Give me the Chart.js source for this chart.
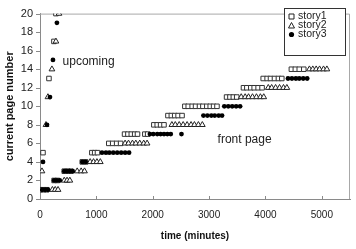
<!DOCTYPE html>
<html>
<head>
<meta charset="utf-8">
<script src="https://cdn.jsdelivr.net/npm/chart.js@4.4.1/dist/chart.umd.min.js"></script>
<style>
  html, body { margin: 0; padding: 0; background: #fff; }
</style>
</head>
<body>
<canvas id="pageChart" width="356" height="249"></canvas>
<script>
// ===== data: [time (minutes), current page number] =====
const story1 = [
  [53, 5], [159, 13], [247, 17], [283, 20],
  [0, 1], [60, 1], [120, 1],
  [250, 2], [310, 2],
  [430, 3], [490, 3], [550, 3],
  [750, 4], [810, 4],
  [920, 5], [970, 5], [1020, 5],
  [1220, 6], [1290, 6], [1360, 6], [1430, 6],
  [1500, 7], [1560, 7], [1620, 7], [1680, 7], [1730, 7], [1860, 7], [1910, 7],
  [2020, 8], [2080, 8], [2140, 8], [2200, 8],
  [2270, 9], [2330, 9], [2390, 9], [2450, 9], [2520, 9],
  [2570, 10], [2630, 10], [2700, 10], [2760, 10], [2830, 10], [2890, 10], [2960, 10], [3020, 10], [3080, 10], [3140, 10],
  [3310, 11], [3370, 11], [3430, 11], [3490, 11],
  [3610, 12], [3670, 12], [3740, 12], [3800, 12], [3870, 12], [3940, 12],
  [3960, 13], [4030, 13], [4090, 13], [4160, 13], [4230, 13], [4290, 13],
  [4460, 14], [4530, 14], [4600, 14], [4680, 14]
];
const story2 = [
  [35, 3], [106, 8], [141, 11], [212, 14], [283, 17], [336, 20],
  [220, 1], [270, 1], [320, 1],
  [430, 2], [480, 2], [530, 2],
  [660, 3], [730, 3], [790, 3],
  [890, 4], [950, 4], [1010, 4], [1070, 4],
  [1510, 6], [1570, 6], [1640, 6], [1700, 6], [1770, 6], [1840, 6], [1900, 6],
  [2340, 8], [2400, 8], [2470, 8], [2540, 8], [2610, 8], [2680, 8], [2740, 8], [2810, 8], [2880, 8],
  [3570, 11], [3640, 11], [3700, 11], [3770, 11], [3840, 11], [3910, 11], [3970, 11],
  [4050, 12], [4110, 12], [4180, 12], [4250, 12], [4320, 12], [4380, 12],
  [4780, 14], [4840, 14], [4900, 14], [4960, 14], [5030, 14], [5090, 14]
];
const story3 = [
  [53, 4], [124, 8], [177, 11], [230, 15], [300, 19],
  [40, 1], [90, 1], [140, 1],
  [250, 2], [300, 2], [350, 2],
  [430, 3], [480, 3], [530, 3], [580, 3],
  [750, 4], [810, 4],
  [1100, 5], [1170, 5], [1230, 5], [1300, 5], [1370, 5], [1440, 5], [1510, 5], [1580, 5],
  [1950, 7], [2010, 7], [2080, 7], [2140, 7], [2200, 7], [2260, 7], [2320, 7], [2510, 7],
  [2900, 9], [2970, 9], [3040, 9], [3100, 9], [3170, 9], [3230, 9],
  [3270, 10], [3340, 10], [3410, 10], [3480, 10], [3550, 10],
  [4400, 13], [4470, 13], [4540, 13], [4600, 13], [4670, 13], [4740, 13]
];
const seriesNames = ["story1", "story2", "story3"];
const xTicks = [0, 1000, 2000, 3000, 4000, 5000];
const yTicks = [0, 2, 4, 6, 8, 10, 12, 14, 16, 18, 20];
// [text, time, page] - left/middle anchor of each annotation
const notes = [["upcoming", 400, 14.8], ["front page", 3150, 6.35]];

const FONT = "'Liberation Sans', Arial, sans-serif";
const toXY = arr => arr.map(p => ({ x: p[0], y: p[1] }));

// markers for the hand-made legend
function drawMarker(ctx, kind, x, y) {
  ctx.lineWidth = 1;
  ctx.strokeStyle = "#222";
  ctx.fillStyle = "#fff";
  ctx.beginPath();
  if (kind === 0) {
    ctx.rect(x - 2.5, y - 2.5, 5, 5);
    ctx.fill(); ctx.stroke();
  } else if (kind === 1) {
    ctx.moveTo(x, y - 3); ctx.lineTo(x + 3, y + 2.5); ctx.lineTo(x - 3, y + 2.5); ctx.closePath();
    ctx.fill(); ctx.stroke();
  } else {
    ctx.fillStyle = "#000";
    ctx.arc(x, y, 2.6, 0, Math.PI * 2);
    ctx.fill();
  }
}

const extras = {
  id: "extras",
  beforeDatasetsDraw(chart) {
    const { ctx, chartArea: a, scales: { x, y } } = chart;
    ctx.save();
    // gray frame top / right
    ctx.strokeStyle = "#a8a8a8";
    ctx.lineWidth = 1;
    ctx.beginPath();
    ctx.moveTo(a.left, a.top + 0.5);
    ctx.lineTo(a.right - 0.5, a.top + 0.5);
    ctx.lineTo(a.right - 0.5, a.bottom);
    ctx.stroke();
    // tick marks (y outside, x inside)
    ctx.strokeStyle = "#8a8a8a";
    ctx.beginPath();
    yTicks.forEach(v => {
      const py = Math.round(y.getPixelForValue(v)) + 0.5;
      ctx.moveTo(a.left - 4, py); ctx.lineTo(a.left, py);
    });
    xTicks.forEach(v => {
      const px = Math.round(x.getPixelForValue(v)) + 0.5;
      ctx.moveTo(px, a.bottom); ctx.lineTo(px, a.bottom - 3);
    });
    ctx.stroke();
    ctx.restore();
  },
  afterDraw(chart) {
    const { ctx, scales: { x, y } } = chart;
    ctx.save();
    // annotations
    ctx.fillStyle = "#222";
    ctx.font = "12px " + FONT;
    ctx.textBaseline = "middle";
    notes.forEach(n => ctx.fillText(n[0], x.getPixelForValue(n[1]), y.getPixelForValue(n[2])));
    // legend box
    ctx.fillStyle = "#fff";
    ctx.fillRect(284, 8, 61, 47);
    ctx.strokeStyle = "#333";
    ctx.strokeRect(284.5, 8.5, 61, 47);
    ctx.font = "10.5px " + FONT;
    seriesNames.forEach((name, i) => {
      const ly = 16.5 + i * 9;
      drawMarker(ctx, i, 291.5, ly);
      ctx.fillStyle = "#222";
      ctx.fillText(name, 298, ly);
    });
    ctx.restore();
  }
};

const ctx = document.getElementById("pageChart");
new Chart(ctx, {
  type: "scatter",
  data: {
    datasets: [
      {
        label: seriesNames[0],
        data: toXY(story1),
        pointStyle: "rect",
        pointRadius: 3.2,
        borderWidth: 1,
        borderColor: "#333",
        backgroundColor: "#fff",
        order: 3
      },
      {
        label: seriesNames[1],
        data: toXY(story2),
        pointStyle: "triangle",
        pointRadius: 3.3,
        borderWidth: 1,
        borderColor: "#222",
        backgroundColor: "#fff",
        order: 2
      },
      {
        label: seriesNames[2],
        data: toXY(story3),
        pointStyle: "circle",
        pointRadius: 2.4,
        borderWidth: 0,
        borderColor: "#000",
        backgroundColor: "#000",
        order: 1
      }
    ]
  },
  options: {
    responsive: false,
    animation: false,
    layout: { padding: { top: 7, right: 6, left: 0, bottom: 4 } },
    plugins: { legend: { display: false }, tooltip: { enabled: false } },
    scales: {
      x: {
        type: "linear",
        min: 0,
        max: 5500,
        afterBuildTicks: s => { s.ticks = xTicks.map(v => ({ value: v })); },
        afterFit: s => { s.height = 46; },
        grid: { display: false, drawTicks: false },
        border: { display: true, color: "#8a8a8a", width: 1 },
        ticks: {
          color: "#222",
          font: { family: FONT, size: 10 },
          padding: 10,
          maxRotation: 0,
          callback: v => String(v)
        },
        title: {
          display: true,
          text: "time (minutes)",
          color: "#111",
          font: { family: FONT, size: 10, weight: "bold" },
          padding: { top: 0, bottom: 3 }
        }
      },
      y: {
        type: "linear",
        min: 0,
        max: 20,
        afterBuildTicks: s => { s.ticks = yTicks.map(v => ({ value: v })); },
        afterFit: s => { s.width = 40; },
        grid: { display: false, drawTicks: false },
        border: { display: true, color: "#8a8a8a", width: 1 },
        ticks: { color: "#222", font: { family: FONT, size: 11 }, padding: 7 },
        title: {
          display: true,
          text: "current page number",
          color: "#111",
          font: { family: FONT, size: 11, weight: "bold" },
          padding: { top: 3, bottom: 0 }
        }
      }
    }
  },
  plugins: [extras]
});
</script>
</body>
</html>
